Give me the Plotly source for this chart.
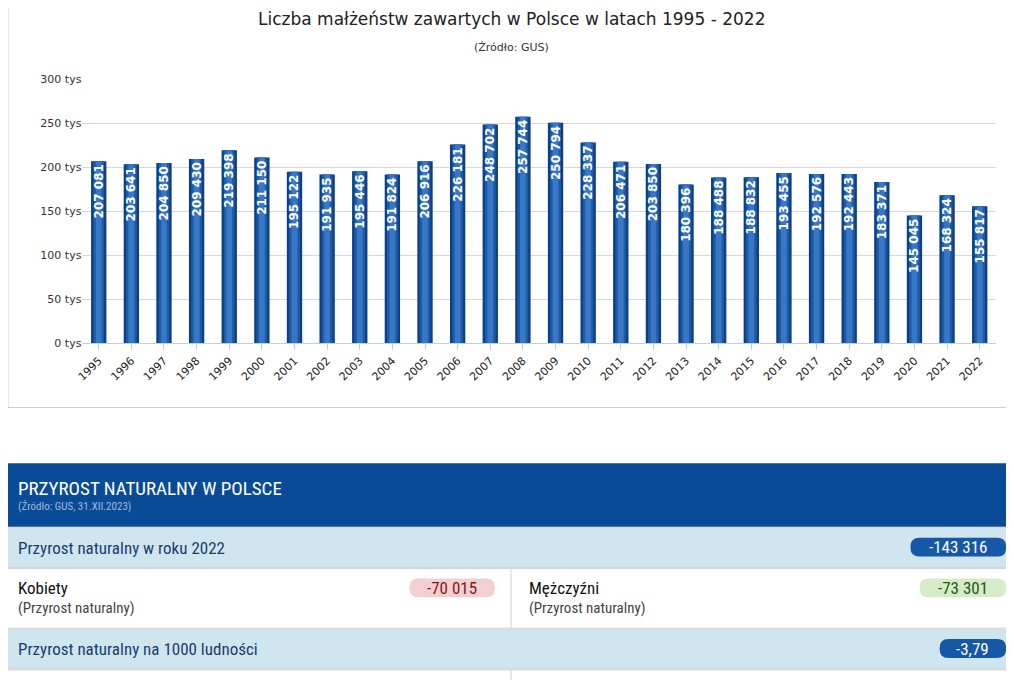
import plotly.graph_objects as go

years = list(range(1995, 2023))
marriages = [207081, 203641, 204850, 209430, 219398, 211150, 195122, 191935, 195446, 191824,
             206916, 226181, 248702, 257744, 250794, 228337, 206471, 203850, 180396, 188488,
             188832, 193455, 192576, 192443, 183371, 145045, 168324, 155817]
y_ticks = [0, 50000, 100000, 150000, 200000, 250000, 300000]
y_tick_labels = [f"{v // 1000} tys" for v in y_ticks]

panel_title = "PRZYROST NATURALNY W POLSCE"
panel_source = "(Źródło: GUS, 31.XII.2023)"
total_label, total_value = "Przyrost naturalny w roku 2022", "-143 316"
women_label, women_value = "Kobiety", "-70 015"
men_label, men_value = "Mężczyźni", "-73 301"
sub_label = "(Przyrost naturalny)"
per1000_label, per1000_value = "Przyrost naturalny na 1000 ludności", "-3,79"

W, H = 1014, 680
# the page shows the figure slightly shifted and shrunk; compensate
OX, OY, S = 15, 12, 0.987


def px(x):
    return (x - OX) / S / W


def py(y):
    return 1 - (y - OY) / S / H


def fmt(v):
    return f"{v:,}".replace(",", " ")


def pill(x0, y0, x1, y1, r=9):
    X0, X1 = px(x0), px(x1)
    Y0, Y1 = py(y0), py(y1)
    rx, ry = r / W, r / H
    return (f"M{X0+rx},{Y0} L{X1-rx},{Y0} Q{X1},{Y0} {X1},{Y0-ry} L{X1},{Y1+ry} "
            f"Q{X1},{Y1} {X1-rx},{Y1} L{X0+rx},{Y1} Q{X0},{Y1} {X0},{Y1+ry} "
            f"L{X0},{Y0-ry} Q{X0},{Y0} {X0+rx},{Y0} Z")


fig = go.Figure()
for w, c in [(0.47, "#0d3f86"), (0.33, "#1d5aa8"), (0.18, "#3777c4")]:
    fig.add_bar(x=years, y=marriages, width=w, marker=dict(color=c, line_width=0),
                hoverinfo="skip")
# wider invisible bars so the labels are not shrunk
fig.add_bar(x=years, y=marriages, width=0.9, marker=dict(color="rgba(0,0,0,0)", line_width=0),
            text=[fmt(v) for v in marriages], textposition="inside", insidetextanchor="end",
            textangle=-90, textfont=dict(color="white", size=12, family="DejaVu Sans"),
            texttemplate="<b>%{text}</b>", hoverinfo="skip")

shapes = [
    dict(type="rect", xref="paper", yref="paper", x0=px(8), x1=px(1009), y0=py(-5), y1=py(408),
         line=dict(color="#cccccc", width=1), fillcolor="rgba(0,0,0,0)"),
    dict(type="rect", xref="paper", yref="paper", x0=px(0), x1=px(1014), y0=py(464), y1=py(528),
         line_width=0, fillcolor="#0a4b97"),
]
for y0, y1, fill in [(529, 569, "#cfe5f0"), (570, 630, "#ffffff"), (631, 671, "#cfe5f0"), (672, 700, "#ffffff")]:
    shapes.append(dict(type="rect", xref="paper", yref="paper", x0=px(0), x1=px(1014), y0=py(y0), y1=py(y1),
                       line=dict(color="#d3d3d3", width=1), fillcolor=fill))
for y0, y1 in [(570, 630), (672, 700)]:
    shapes.append(dict(type="line", xref="paper", yref="paper", x0=px(508), x1=px(508),
                       y0=py(y0), y1=py(y1), line=dict(color="#d3d3d3", width=1)))

badges = [(905, 539, 1000, 558, "#1558a7", "white", total_value),
          (407, 580, 492, 599, "#f2cfd0", "#8b1414", women_value),
          (914, 580, 1000, 599, "#d5ecc6", "#24581a", men_value),
          (934, 641, 1000, 660, "#1558a7", "white", per1000_value)]
nf = "Liberation Sans Narrow, Roboto Condensed, sans-serif"
annotations = [
    dict(text="Liczba małżeństw zawartych w Polsce w latach 1995 - 2022", x=px(508), y=py(17),
         font=dict(size=17, color="#222", family="DejaVu Sans")),
    dict(text="(Źródło: GUS)", x=px(508), y=py(46), font=dict(size=11, color="#333", family="DejaVu Sans")),
    dict(text=panel_title, x=px(16), y=py(489), xanchor="left", font=dict(size=19, color="white", family=nf)),
    dict(text=panel_source, x=px(16), y=py(508), xanchor="left", font=dict(size=11, color="#9fb9dc", family=nf)),
    dict(text=total_label, x=px(16), y=py(549), xanchor="left", font=dict(size=17, color="#1a3d6e", family=nf)),
    dict(text=women_label, x=px(16), y=py(590), xanchor="left", font=dict(size=17, color="#111", family=nf)),
    dict(text=sub_label, x=px(16), y=py(610), xanchor="left", font=dict(size=15, color="#444", family=nf)),
    dict(text=men_label, x=px(524), y=py(590), xanchor="left", font=dict(size=17, color="#111", family=nf)),
    dict(text=sub_label, x=px(524), y=py(610), xanchor="left", font=dict(size=15, color="#444", family=nf)),
    dict(text=per1000_label, x=px(16), y=py(651), xanchor="left", font=dict(size=17, color="#1a3d6e", family=nf)),
]
for x0, y0, x1, y1, fill, tc, val in badges:
    shapes.append(dict(type="path", xref="paper", yref="paper", path=pill(x0, y0, x1, y1),
                       fillcolor=fill, line_width=0))
    annotations.append(dict(text=val, x=px((x0 + x1) / 2), y=py((y0 + y1) / 2),
                            font=dict(size=17, color=tc, family=nf)))
for a in annotations:
    a.update(xref="paper", yref="paper", showarrow=False)
    a.setdefault("xanchor", "center")
    a["yanchor"] = "middle"

fig.update_layout(
    width=W, height=H, margin=dict(l=0, r=0, t=0, b=0), barmode="overlay", showlegend=False,
    plot_bgcolor="white", paper_bgcolor="white", shapes=shapes, annotations=annotations,
    font=dict(family="DejaVu Sans", size=11, color="#333"),
    xaxis=dict(domain=[px(82), px(990)], tickvals=years, tickangle=-45, showgrid=False,
               range=[1994.5, 2022.5], ticks="outside", ticklen=6, tickcolor="#c0d0e0",
               showline=True, linecolor="#c0d0e0", tickfont=dict(size=11, color="#222")),
    yaxis=dict(domain=[py(343), py(78)], range=[0, 300000], tickvals=y_ticks, ticktext=y_tick_labels,
               gridcolor="#d8d8d8", zeroline=False, tickfont=dict(size=11, color="#333"), ticksuffix="  "),
)
fig.write_html("out.html")
